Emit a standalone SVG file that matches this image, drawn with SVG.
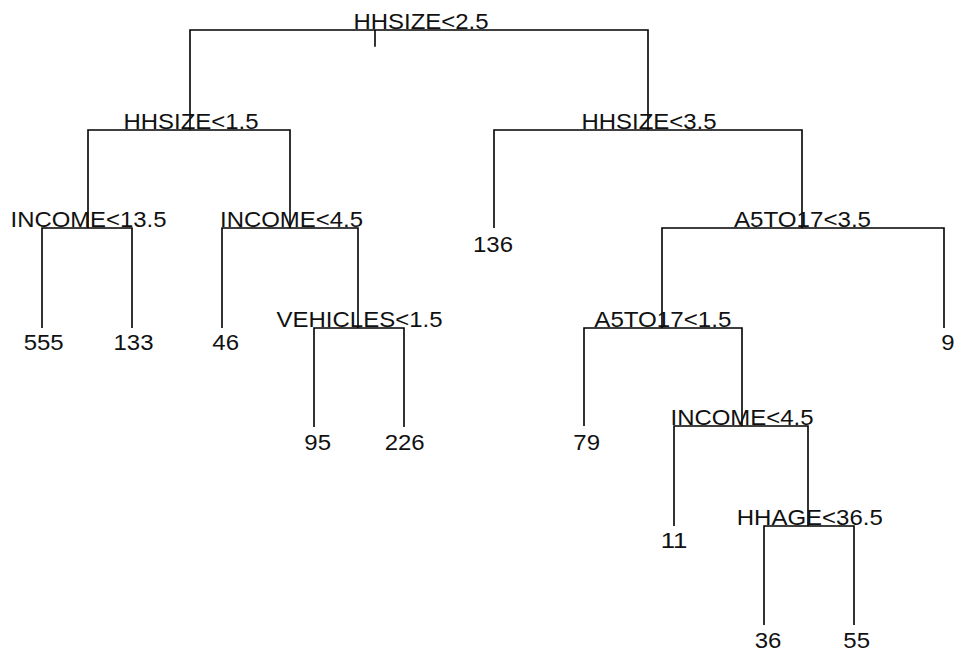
<svg xmlns="http://www.w3.org/2000/svg" width="958" height="654" viewBox="0 0 958 654">
<style>
.e{fill:none;stroke:#000;stroke-width:1.6;stroke-linecap:butt;stroke-linejoin:miter}
.t{font-family:"Liberation Sans",Arial,sans-serif;font-size:22px;fill:#111;text-anchor:middle}
</style>
<rect width="958" height="654" fill="#fff"/>
<g id="connectors">
<path class="e" d="M190,130V30H648V130"/>
<path class="e" d="M375,30V46.7"/>
<path class="e" d="M88,228V130H290V228"/>
<path class="e" d="M494,228V130H802V228"/>
<path class="e" d="M42,328V228H132V328"/>
<path class="e" d="M222,328V228H358V328"/>
<path class="e" d="M314,427V328H404V427"/>
<path class="e" d="M662,328V228H944V328"/>
<path class="e" d="M584,426V328H742V426"/>
<path class="e" d="M674,526V426H808V526"/>
<path class="e" d="M764,625V526H854V625"/>
</g>
<g id="n1"><text class="t" x="421" y="29" textLength="135" lengthAdjust="spacingAndGlyphs">HHSIZE&lt;2.5</text></g>
<g id="n2"><text class="t" x="191" y="129" textLength="135" lengthAdjust="spacingAndGlyphs">HHSIZE&lt;1.5</text></g>
<g id="n3"><text class="t" x="649" y="129" textLength="135" lengthAdjust="spacingAndGlyphs">HHSIZE&lt;3.5</text></g>
<g id="n4"><text class="t" x="88.5" y="227" textLength="156" lengthAdjust="spacingAndGlyphs">INCOME&lt;13.5</text></g>
<g id="n5"><text class="t" x="291.5" y="227" textLength="143" lengthAdjust="spacingAndGlyphs">INCOME&lt;4.5</text></g>
<g id="n11"><text class="t" x="359.5" y="327" textLength="166" lengthAdjust="spacingAndGlyphs">VEHICLES&lt;1.5</text></g>
<g id="n7"><text class="t" x="802.5" y="227" textLength="137" lengthAdjust="spacingAndGlyphs">A5TO17&lt;3.5</text></g>
<g id="n14"><text class="t" x="662.8" y="327" textLength="137" lengthAdjust="spacingAndGlyphs">A5TO17&lt;1.5</text></g>
<g id="n29"><text class="t" x="742" y="425" textLength="143" lengthAdjust="spacingAndGlyphs">INCOME&lt;4.5</text></g>
<g id="n59"><text class="t" x="809.8" y="525" textLength="146" lengthAdjust="spacingAndGlyphs">HHAGE&lt;36.5</text></g>
<g id="l8"><text class="t" x="43.7" y="350" textLength="40" lengthAdjust="spacingAndGlyphs">555</text></g>
<g id="l9"><text class="t" x="133.5" y="350" textLength="40" lengthAdjust="spacingAndGlyphs">133</text></g>
<g id="l10"><text class="t" x="225.7" y="350" textLength="26.7" lengthAdjust="spacingAndGlyphs">46</text></g>
<g id="l22"><text class="t" x="317.7" y="450" textLength="26.7" lengthAdjust="spacingAndGlyphs">95</text></g>
<g id="l23"><text class="t" x="404.7" y="450" textLength="40" lengthAdjust="spacingAndGlyphs">226</text></g>
<g id="l6"><text class="t" x="493" y="251.5" textLength="40" lengthAdjust="spacingAndGlyphs">136</text></g>
<g id="l28"><text class="t" x="586.7" y="450" textLength="26.7" lengthAdjust="spacingAndGlyphs">79</text></g>
<g id="l58"><text class="t" x="674" y="547.5" textLength="26.7" lengthAdjust="spacingAndGlyphs">11</text></g>
<g id="l15"><text class="t" x="948" y="350" textLength="13.3" lengthAdjust="spacingAndGlyphs">9</text></g>
<g id="l118"><text class="t" x="768" y="648" textLength="26.7" lengthAdjust="spacingAndGlyphs">36</text></g>
<g id="l119"><text class="t" x="856.7" y="648" textLength="26.7" lengthAdjust="spacingAndGlyphs">55</text></g>
</svg>
